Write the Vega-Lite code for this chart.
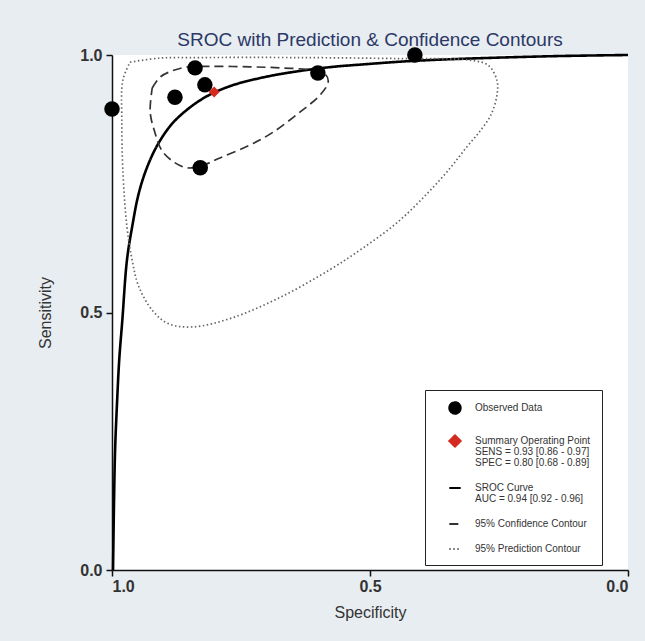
{
  "$schema": "https://vega.github.io/schema/vega-lite/v6.json",
  "width": 516,
  "height": 515,
  "autosize": {"type": "none"},
  "padding": {"left": 112, "top": 55, "right": 17, "bottom": 71},
  "background": "#e7edf1",
  "config": {
    "view": {"fill": "white", "stroke": null},
    "font": "Liberation Sans",
    "axis": {
      "grid": false,
      "domainColor": "#111111",
      "domainWidth": 1.5,
      "tickColor": "#111111",
      "tickWidth": 1.5,
      "tickSize": 6,
      "labelFontSize": 16,
      "labelColor": "#333333",
      "labelFontWeight": "bold",
      "titleFontSize": 16,
      "titleFontWeight": "normal",
      "titleColor": "#333333"
    }
  },
  "title": {
    "text": "SROC with Prediction & Confidence Contours",
    "fontSize": 19,
    "fontWeight": "normal",
    "color": "#2c3866",
    "anchor": "middle",
    "offset": -3,
    "font": "Liberation Sans"
  },
  "datasets": {
    "curves": [
      {"series": "SROC Curve|AUC = 0.94 [0.92 - 0.96]", "i": 1, "spec": 0.998, "sens": 0.0},
      {"series": "SROC Curve|AUC = 0.94 [0.92 - 0.96]", "i": 2, "spec": 0.996, "sens": 0.136},
      {"series": "SROC Curve|AUC = 0.94 [0.92 - 0.96]", "i": 3, "spec": 0.994, "sens": 0.233},
      {"series": "SROC Curve|AUC = 0.94 [0.92 - 0.96]", "i": 4, "spec": 0.990, "sens": 0.330},
      {"series": "SROC Curve|AUC = 0.94 [0.92 - 0.96]", "i": 5, "spec": 0.986, "sens": 0.408},
      {"series": "SROC Curve|AUC = 0.94 [0.92 - 0.96]", "i": 6, "spec": 0.980, "sens": 0.485},
      {"series": "SROC Curve|AUC = 0.94 [0.92 - 0.96]", "i": 7, "spec": 0.971, "sens": 0.602},
      {"series": "SROC Curve|AUC = 0.94 [0.92 - 0.96]", "i": 8, "spec": 0.961, "sens": 0.666},
      {"series": "SROC Curve|AUC = 0.94 [0.92 - 0.96]", "i": 9, "spec": 0.948, "sens": 0.732},
      {"series": "SROC Curve|AUC = 0.94 [0.92 - 0.96]", "i": 10, "spec": 0.932, "sens": 0.782},
      {"series": "SROC Curve|AUC = 0.94 [0.92 - 0.96]", "i": 11, "spec": 0.912, "sens": 0.825},
      {"series": "SROC Curve|AUC = 0.94 [0.92 - 0.96]", "i": 12, "spec": 0.884, "sens": 0.866},
      {"series": "SROC Curve|AUC = 0.94 [0.92 - 0.96]", "i": 13, "spec": 0.853, "sens": 0.895},
      {"series": "SROC Curve|AUC = 0.94 [0.92 - 0.96]", "i": 14, "spec": 0.816, "sens": 0.920},
      {"series": "SROC Curve|AUC = 0.94 [0.92 - 0.96]", "i": 15, "spec": 0.767, "sens": 0.941},
      {"series": "SROC Curve|AUC = 0.94 [0.92 - 0.96]", "i": 16, "spec": 0.700, "sens": 0.958},
      {"series": "SROC Curve|AUC = 0.94 [0.92 - 0.96]", "i": 17, "spec": 0.636, "sens": 0.969},
      {"series": "SROC Curve|AUC = 0.94 [0.92 - 0.96]", "i": 18, "spec": 0.572, "sens": 0.977},
      {"series": "SROC Curve|AUC = 0.94 [0.92 - 0.96]", "i": 19, "spec": 0.510, "sens": 0.982},
      {"series": "SROC Curve|AUC = 0.94 [0.92 - 0.96]", "i": 20, "spec": 0.442, "sens": 0.987},
      {"series": "SROC Curve|AUC = 0.94 [0.92 - 0.96]", "i": 21, "spec": 0.364, "sens": 0.991},
      {"series": "SROC Curve|AUC = 0.94 [0.92 - 0.96]", "i": 22, "spec": 0.248, "sens": 0.995},
      {"series": "SROC Curve|AUC = 0.94 [0.92 - 0.96]", "i": 23, "spec": 0.132, "sens": 0.998},
      {"series": "SROC Curve|AUC = 0.94 [0.92 - 0.96]", "i": 24, "spec": 0.0, "sens": 1.0},

      {"series": "95% Confidence Contour", "i": 1, "spec": 0.922, "sens": 0.936},
      {"series": "95% Confidence Contour", "i": 2, "spec": 0.907, "sens": 0.957},
      {"series": "95% Confidence Contour", "i": 3, "spec": 0.884, "sens": 0.969},
      {"series": "95% Confidence Contour", "i": 4, "spec": 0.853, "sens": 0.977},
      {"series": "95% Confidence Contour", "i": 5, "spec": 0.810, "sens": 0.978},
      {"series": "95% Confidence Contour", "i": 6, "spec": 0.733, "sens": 0.977},
      {"series": "95% Confidence Contour", "i": 7, "spec": 0.674, "sens": 0.975},
      {"series": "95% Confidence Contour", "i": 8, "spec": 0.616, "sens": 0.971},
      {"series": "95% Confidence Contour", "i": 9, "spec": 0.587, "sens": 0.963},
      {"series": "95% Confidence Contour", "i": 10, "spec": 0.581, "sens": 0.948},
      {"series": "95% Confidence Contour", "i": 11, "spec": 0.597, "sens": 0.922},
      {"series": "95% Confidence Contour", "i": 12, "spec": 0.636, "sens": 0.889},
      {"series": "95% Confidence Contour", "i": 13, "spec": 0.688, "sens": 0.850},
      {"series": "95% Confidence Contour", "i": 14, "spec": 0.733, "sens": 0.825},
      {"series": "95% Confidence Contour", "i": 15, "spec": 0.791, "sens": 0.800},
      {"series": "95% Confidence Contour", "i": 16, "spec": 0.829, "sens": 0.784},
      {"series": "95% Confidence Contour", "i": 17, "spec": 0.855, "sens": 0.781},
      {"series": "95% Confidence Contour", "i": 18, "spec": 0.880, "sens": 0.792},
      {"series": "95% Confidence Contour", "i": 19, "spec": 0.903, "sens": 0.814},
      {"series": "95% Confidence Contour", "i": 20, "spec": 0.917, "sens": 0.850},
      {"series": "95% Confidence Contour", "i": 21, "spec": 0.926, "sens": 0.889},
      {"series": "95% Confidence Contour", "i": 22, "spec": 0.922, "sens": 0.936},

      {"series": "95% Prediction Contour", "i": 1, "spec": 0.965, "sens": 0.986},
      {"series": "95% Prediction Contour", "i": 2, "spec": 0.907, "sens": 0.994},
      {"series": "95% Prediction Contour", "i": 3, "spec": 0.829, "sens": 0.995},
      {"series": "95% Prediction Contour", "i": 4, "spec": 0.636, "sens": 0.995},
      {"series": "95% Prediction Contour", "i": 5, "spec": 0.442, "sens": 0.993},
      {"series": "95% Prediction Contour", "i": 6, "spec": 0.306, "sens": 0.990},
      {"series": "95% Prediction Contour", "i": 7, "spec": 0.271, "sens": 0.980},
      {"series": "95% Prediction Contour", "i": 8, "spec": 0.254, "sens": 0.951},
      {"series": "95% Prediction Contour", "i": 9, "spec": 0.254, "sens": 0.922},
      {"series": "95% Prediction Contour", "i": 10, "spec": 0.266, "sens": 0.883},
      {"series": "95% Prediction Contour", "i": 11, "spec": 0.287, "sens": 0.852},
      {"series": "95% Prediction Contour", "i": 12, "spec": 0.312, "sens": 0.822},
      {"series": "95% Prediction Contour", "i": 13, "spec": 0.345, "sens": 0.780},
      {"series": "95% Prediction Contour", "i": 14, "spec": 0.390, "sens": 0.730},
      {"series": "95% Prediction Contour", "i": 15, "spec": 0.448, "sens": 0.674},
      {"series": "95% Prediction Contour", "i": 16, "spec": 0.514, "sens": 0.625},
      {"series": "95% Prediction Contour", "i": 17, "spec": 0.578, "sens": 0.583},
      {"series": "95% Prediction Contour", "i": 18, "spec": 0.669, "sens": 0.532},
      {"series": "95% Prediction Contour", "i": 19, "spec": 0.766, "sens": 0.490},
      {"series": "95% Prediction Contour", "i": 20, "spec": 0.843, "sens": 0.472},
      {"series": "95% Prediction Contour", "i": 21, "spec": 0.890, "sens": 0.478},
      {"series": "95% Prediction Contour", "i": 22, "spec": 0.920, "sens": 0.502},
      {"series": "95% Prediction Contour", "i": 23, "spec": 0.948, "sens": 0.550},
      {"series": "95% Prediction Contour", "i": 24, "spec": 0.961, "sens": 0.602},
      {"series": "95% Prediction Contour", "i": 25, "spec": 0.971, "sens": 0.666},
      {"series": "95% Prediction Contour", "i": 26, "spec": 0.979, "sens": 0.777},
      {"series": "95% Prediction Contour", "i": 27, "spec": 0.981, "sens": 0.874},
      {"series": "95% Prediction Contour", "i": 28, "spec": 0.979, "sens": 0.951},
      {"series": "95% Prediction Contour", "i": 29, "spec": 0.965, "sens": 0.986}
    ],
    "points": [
      {"series": "Observed Data", "spec": 1.0, "sens": 0.895},
      {"series": "Observed Data", "spec": 0.878, "sens": 0.918},
      {"series": "Observed Data", "spec": 0.839, "sens": 0.975},
      {"series": "Observed Data", "spec": 0.820, "sens": 0.942},
      {"series": "Observed Data", "spec": 0.829, "sens": 0.781},
      {"series": "Observed Data", "spec": 0.601, "sens": 0.965},
      {"series": "Observed Data", "spec": 0.413, "sens": 1.0},
      {"series": "Summary Operating Point|SENS = 0.93 [0.86 - 0.97]|SPEC = 0.80 [0.68 - 0.89]", "spec": 0.802, "sens": 0.928}
    ]
  },
  "layer": [
    {
      "data": {"name": "curves"},
      "mark": {"type": "line", "clip": false, "strokeWidth": 1.6, "interpolate": "catmull-rom"},
      "encoding": {
        "x": {"field": "spec", "type": "quantitative", "title": "Specificity",
              "scale": {"domain": [0, 1], "reverse": true, "nice": false},
              "axis": {"values": [1, 0.5, 0], "format": ".1f", "labelPadding": 2, "titlePadding": 10}},
        "y": {"field": "sens", "type": "quantitative", "title": "Sensitivity",
              "scale": {"domain": [0, 1], "nice": false},
              "axis": {"values": [0, 0.5, 1], "format": ".1f", "labelPadding": 4, "titlePadding": 26}},
        "order": {"field": "i", "type": "quantitative"},
        "detail": {"field": "series"},
        "size": {"condition": {"test": "indexof(datum.series, 'SROC') === 0", "value": 2.6}, "value": 1.7},
        "color": {"field": "series", "type": "nominal",
          "scale": {
            "domain": ["Observed Data", "Summary Operating Point|SENS = 0.93 [0.86 - 0.97]|SPEC = 0.80 [0.68 - 0.89]", "SROC Curve|AUC = 0.94 [0.92 - 0.96]", "95% Confidence Contour", "95% Prediction Contour"],
            "range": ["#000000", "#d42a20", "#000000", "#333333", "#666666"]
          },
          "legend": {
            "title": null,
            "orient": "none",
            "legendX": 313,
            "legendY": 335,
            "fillColor": "white",
            "strokeColor": "#222222",
            "padding": 11,
            "rowPadding": 13,
            "symbolOffset": 12,
            "labelOffset": 13,
            "labelFontSize": 10,
            "labelColor": "#333333",
            "labelLimit": 200,
            "symbolSize": 130,
            "symbolStrokeWidth": 2,
            "labelExpr": "split(datum.label, '|')",
            "encode": {
              "symbols": {"update": {
                "fill": {"scale": "color", "field": "value"},
                "stroke": {"scale": "color", "field": "value"}
              }},
              "labels": {"update": {"lineHeight": {"value": 11}}}
            }
          }
        },
        "strokeDash": {"field": "series", "type": "nominal",
          "scale": {
            "domain": ["Observed Data", "Summary Operating Point|SENS = 0.93 [0.86 - 0.97]|SPEC = 0.80 [0.68 - 0.89]", "SROC Curve|AUC = 0.94 [0.92 - 0.96]", "95% Confidence Contour", "95% Prediction Contour"],
            "range": [[1, 0], [1, 0], [1, 0], [9, 5], [1.5, 2.5]]
          }
        }
      }
    },
    {
      "data": {"name": "points"},
      "mark": {"type": "point", "filled": true, "opacity": 1, "clip": false},
      "encoding": {
        "x": {"field": "spec", "type": "quantitative"},
        "y": {"field": "sens", "type": "quantitative"},
        "size": {"condition": {"test": "datum.series === 'Observed Data'", "value": 240}, "value": 120},
        "color": {"field": "series", "type": "nominal"},
        "shape": {"field": "series", "type": "nominal",
          "scale": {
            "domain": ["Observed Data", "Summary Operating Point|SENS = 0.93 [0.86 - 0.97]|SPEC = 0.80 [0.68 - 0.89]", "SROC Curve|AUC = 0.94 [0.92 - 0.96]", "95% Confidence Contour", "95% Prediction Contour"],
            "range": ["circle", "diamond", "stroke", "stroke", "stroke"]
          }
        }
      }
    }
  ]
}
